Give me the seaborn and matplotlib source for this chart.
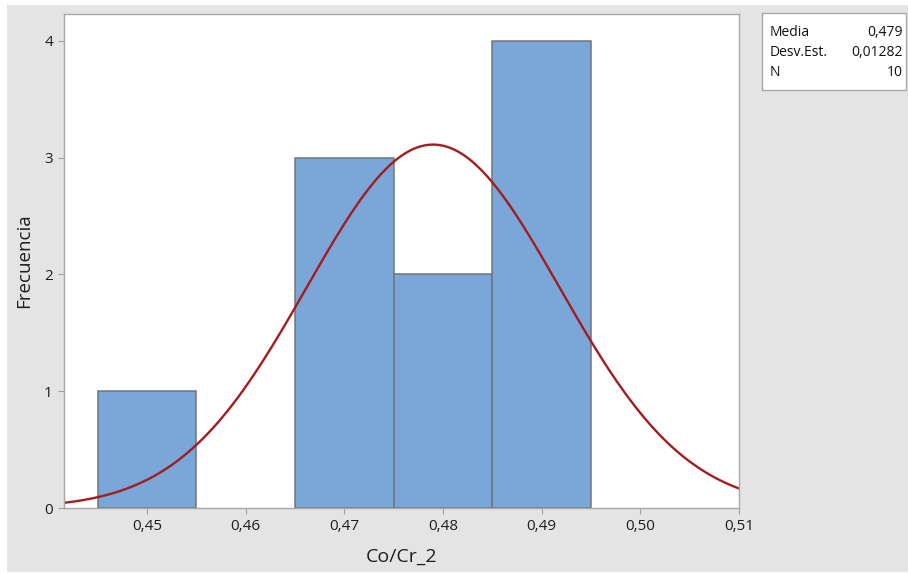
import numpy as np
import pandas as pd
import matplotlib
matplotlib.use("Agg")
import matplotlib.pyplot as plt
from matplotlib.patches import Rectangle
import seaborn as sns

# Histogram bins of Co/Cr_2 and their counts
bin_edges = [0.445, 0.455, 0.465, 0.475, 0.485, 0.495]
bin_counts = [1, 0, 3, 2, 4]

# Summary statistics shown in the side table
media = 0.479
desv_est = 0.01282
n_obs = 10

x_ticks = [0.45, 0.46, 0.47, 0.48, 0.49, 0.50, 0.51]
y_ticks = [0, 1, 2, 3, 4]

sns.set_theme(style="white")
plt.rcParams["font.family"] = ["Open Sans", "DejaVu Sans"]

W, H = 908, 573
fig = plt.figure(figsize=(W / 100, H / 100), dpi=100)
fig.patch.set_facecolor("white")
fig.patches.append(Rectangle((7 / W, 1 / H), 1 - 7 / W, (H - 6) / H,
                             transform=fig.transFigure, facecolor="#E4E4E4",
                             edgecolor="none", zorder=-10))

ax = fig.add_axes([64 / W, 1 - 508 / H, (739 - 64) / W, (508 - 14) / H])
ax.set_facecolor("white")

centers = [(a + b) / 2 for a, b in zip(bin_edges[:-1], bin_edges[1:])]
hist_df = pd.DataFrame({"x": centers, "w": bin_counts})
sns.histplot(data=hist_df, x="x", weights="w", bins=bin_edges, ax=ax,
             color="#7BA6D8", alpha=1.0, edgecolor="#6F757C", linewidth=1.1)
# empty bins get no outline
for p in ax.patches:
    if p.get_height() == 0:
        p.set_linewidth(0)

# Fitted normal curve scaled to the histogram
bw = bin_edges[1] - bin_edges[0]
xs = np.linspace(0.4416, 0.51, 400)
ys = n_obs * bw * np.exp(-0.5 * ((xs - media) / desv_est) ** 2) / (desv_est * np.sqrt(2 * np.pi))
sns.lineplot(x=xs, y=ys, ax=ax, color="#A31C20", linewidth=1.7)

ax.set_xlim(0.4416, 0.51)
ax.set_ylim(0, 4.23)
ax.set_xticks(x_ticks)
ax.set_xticklabels([f"{t:.2f}".replace(".", ",") for t in x_ticks])
ax.set_yticks(y_ticks)
ax.set_yticklabels([str(t) for t in y_ticks])
ax.tick_params(axis="both", which="both", direction="out", length=4, width=0.8,
               color="#A0A0A0", labelsize=11, labelcolor="#1E1E1E", pad=4,
               bottom=True, left=True)
for s in ax.spines.values():
    s.set_color("#A8A8A8")
    s.set_linewidth(1.0)

ax.set_xlabel("Co/Cr_2", fontsize=14, color="#1E1E1E", labelpad=10)
ax.set_ylabel("Frecuencia", fontsize=13.5, color="#1E1E1E", labelpad=8)

# Summary table box
fig.patches.append(Rectangle((762 / W, 1 - 90 / H), (906 - 762) / W, (90 - 13) / H,
                             transform=fig.transFigure, facecolor="white",
                             edgecolor="#A8A8A8", linewidth=1.0, zorder=5))
rows = [("Media", f"{media:.3f}".replace(".", ",")),
        ("Desv.Est.", f"{desv_est:.5f}".replace(".", ",")),
        ("N", str(n_obs))]
for i, (lab, val) in enumerate(rows):
    yy = 1 - (33 + i * 19.5) / H
    fig.text(770 / W, yy, lab, fontsize=10, color="#111111", va="center", ha="left", zorder=6)
    fig.text(903 / W, yy, val, fontsize=10, color="#111111", va="center", ha="right", zorder=6)

fig.savefig("out.png", dpi=100)
